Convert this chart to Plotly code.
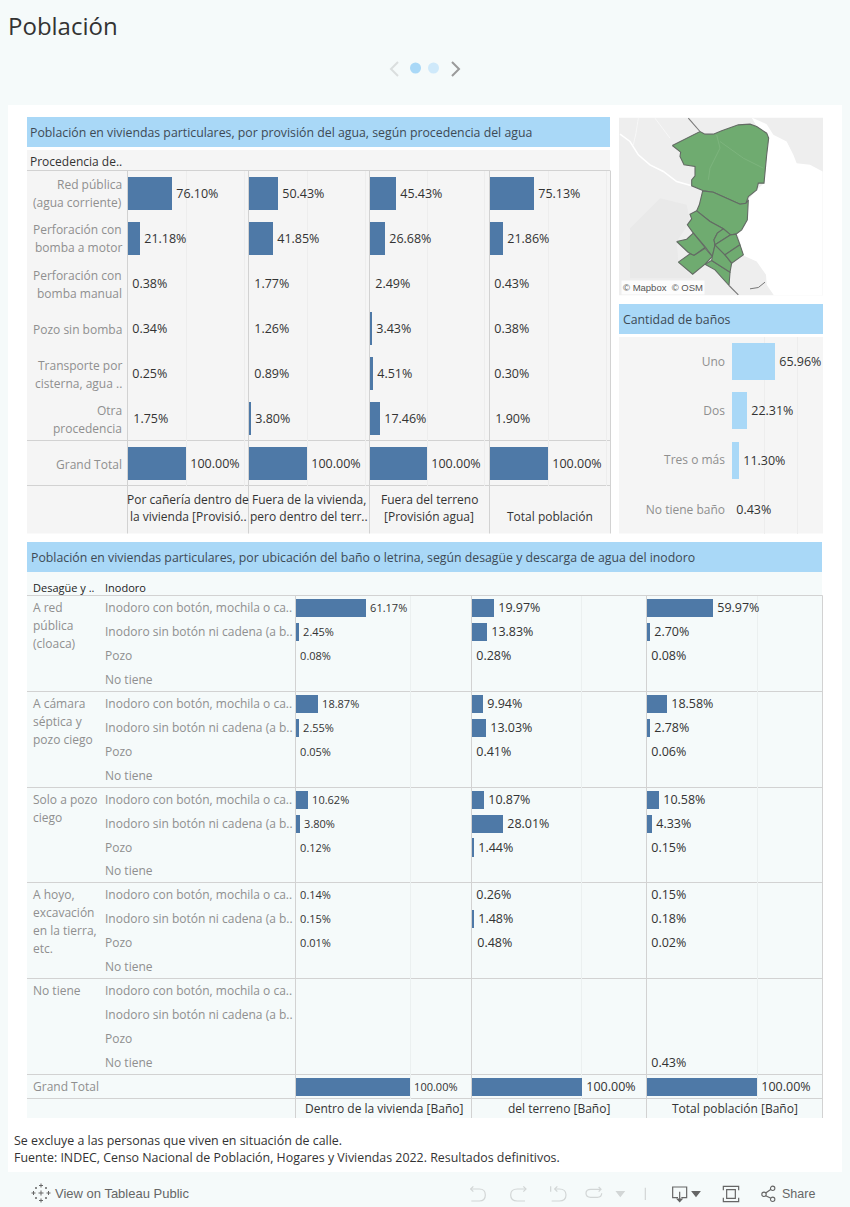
import plotly.graph_objects as go

# ---------- data ----------
water_rows = ["Red pública|(agua corriente)", "Perforación con|bomba a motor", "Perforación con|bomba manual",
              "Pozo sin bomba", "Transporte por|cisterna, agua ..", "Otra|procedencia", "Grand Total"]
water_cols = ["Por cañería dentro de|la vivienda [Provisió..", "Fuera de la vivienda,|pero dentro del terr..",
              "Fuera del terreno|[Provisión agua]", "Total población"]
water_dentro = [76.10, 21.18, 0.38, 0.34, 0.25, 1.75, 100.00]
water_fuera_viv = [50.43, 41.85, 1.77, 1.26, 0.89, 3.80, 100.00]
water_fuera_ter = [45.43, 26.68, 2.49, 3.43, 4.51, 17.46, 100.00]
water_total = [75.13, 21.86, 0.43, 0.38, 0.30, 1.90, 100.00]

bath_rows = ["Uno", "Dos", "Tres o más", "No tiene baño"]
bath_values = [65.96, 22.31, 11.30, 0.43]

groups = ["A red|pública|(cloaca)", "A cámara|séptica y|pozo ciego", "Solo a pozo|ciego",
          "A hoyo,|excavación|en la tierra,|etc.", "No tiene"]
toilets = ["Inodoro con botón, mochila o ca..", "Inodoro sin botón ni cadena (a b..", "Pozo", "No tiene"]
toilet_cols = ["Dentro de la vivienda [Baño]", "del terreno [Baño]", "Total población [Baño]"]
toilet_dentro = [61.17, 2.45, 0.08, None, 18.87, 2.55, 0.05, None, 10.62, 3.80, 0.12, None,
                 0.14, 0.15, 0.01, None, None, None, None, None, 100.00]
toilet_terreno = [19.97, 13.83, 0.28, None, 9.94, 13.03, 0.41, None, 10.87, 28.01, 1.44, None,
                  0.26, 1.48, 0.48, None, None, None, None, None, 100.00]
toilet_total = [59.97, 2.70, 0.08, None, 18.58, 2.78, 0.06, None, 10.58, 4.33, 0.15, None,
                0.15, 0.18, 0.02, None, None, None, None, 0.43, 100.00]

# map outlines, in map units
map_land = [(27,38),(639,38),(639,572),(27,572)]
map_north = [(187,122),(270,80),(285,88),(310,88),(335,78),(385,60),(420,58),(440,65),(470,85),(476,100),(470,150),(465,200),(462,235),(445,235),(440,255),(415,275),(408,295),(390,298),(350,280),(310,262),(280,258),(245,243),(245,225),(255,213),(255,185),(222,180),(210,155),(212,142)]
map_mid = [(278,258),(310,262),(350,280),(390,298),(408,295),(415,285),(412,345),(395,375),(378,388),(362,390),(340,372),(300,350),(260,318),(268,300)]
map_large = [(260,318),(240,328),(245,342),(232,360),(250,385),(285,425),(307,455),(315,420),(312,405),(322,385),(340,372),(300,350)]
map_west = [(200,410),(230,403),(250,385),(285,428),(252,452),(235,443)]
map_sw = [(205,472),(240,447),(252,452),(285,430),(307,455),(285,478),(248,508)]
map_south = [(285,478),(305,467),(360,502),(357,542),(315,495)]
map_center = [(307,455),(315,420),(345,450),(365,475),(360,502),(305,467)]
map_top_c = [(322,385),(340,372),(362,390),(315,420),(312,405)]
map_east_a = [(362,390),(378,388),(390,420),(345,450),(315,420)]
map_east_b = [(390,420),(400,450),(365,475),(345,450)]
map_regions = [map_north, map_mid, map_large, map_west, map_sw, map_south, map_center, map_top_c, map_east_a, map_east_b]
map_water = [(425,38),(470,58),(490,90),(530,110),(550,150),(560,175),(600,180),(638,200),(638,572),(492,572),(470,540),(468,510),(440,470),(400,452),(385,392),(378,388),(395,375),(412,345),(415,285),(440,255),(462,235),(470,150),(476,100),(470,85),(440,65)]
map_patch = [(60,370),(150,280),(230,300),(240,350),(200,410),(205,470),(250,520),(60,520)]
map_river_main = [(30,88),(60,110),(85,150),(120,180),(160,200),(200,230),(245,243)]
map_river_a = [(85,40),(78,85),(70,120)]
map_river_b = [(135,40),(165,80),(180,100)]
map_faint_a = [(320,90),(330,130),(300,190),(295,225)]
map_faint_b = [(330,110),(400,160),(460,190)]
map_coast_a = [(235,40),(270,80)]
map_coast_b = [(357,542),(385,570)]
map_coast_c = [(420,552),(445,548),(465,532)]

# ---------- styling ----------
W, H = 850, 1207
FONT = "Open Sans"
PAGE = "#F5FAFA"
BAND = "#A9D8F7"
BAR = "#4E79A7"
PANEL = "#F5F5F5"
RULE = "#D2D2D2"
GREY = "#8F8F8F"
DARK = "#333333"
UI = "#666666"
OFF = "#D2D6D6"
MIN_VISIBLE_PX = 1.5

xp = lambda v: v / W
yp = lambda v: 1 - v / H

shapes, notes = [], []

def rect(x0, y0, x1, y1, color):
    shapes.append(dict(type="rect", xref="paper", yref="paper", x0=xp(x0), x1=xp(x1), y0=yp(y0), y1=yp(y1),
                       fillcolor=color, line_width=0, layer="below"))

def rule(x0, y0, x1, y1, color=RULE, w=1):
    shapes.append(dict(type="line", xref="paper", yref="paper", x0=xp(x0), x1=xp(x1), y0=yp(y0), y1=yp(y1),
                       line=dict(color=color, width=w), layer="below"))

def path(pts, color=OFF, w=1.2, fill=None, layer="above"):
    out = []
    for c in pts:
        cmd, coords = c[0], c[1:]
        s = " ".join(f"{xp(coords[i]):.5f},{yp(coords[i+1]):.5f}" for i in range(0, len(coords), 2))
        out.append(f"{cmd}{s}")
    d = dict(type="path", xref="paper", yref="paper", path=" ".join(out), line=dict(color=color, width=w), layer=layer)
    if fill:
        d["fillcolor"] = fill
        d["path"] += " Z"
    shapes.append(d)

def circle(cx, cy, r, color, fill=None, w=0):
    shapes.append(dict(type="circle", xref="paper", yref="paper", x0=xp(cx-r), x1=xp(cx+r), y0=yp(cy+r), y1=yp(cy-r),
                       fillcolor=fill or "rgba(0,0,0,0)", line=dict(color=color, width=w)))

def text(x, y, s, size=12, color=DARK, anchor="left", family=FONT, yref="paper", yshift=0):
    notes.append(dict(x=xp(x), y=yp(y) if yref == "paper" else y, xref="paper", yref=yref, text=s, showarrow=False,
                      xanchor=anchor, yanchor="middle", borderpad=0, borderwidth=0, yshift=yshift,
                      font=dict(size=size, color=color, family=family)))

# ---------- page chrome ----------
rect(8, 105, 842, 1172, "#FFFFFF")
text(8, 25.5, "Población", size=24, color="#333333")
circle(415.5, 68, 5.5, BAND, BAND)
circle(433.5, 68, 5.5, "#CFE9FA", "#CFE9FA")
path([("M", 398, 62), ("L", 391, 69), ("L", 398, 76)], color="#DADEDE", w=2)
path([("M", 452, 62), ("L", 459, 69), ("L", 452, 76)], color="#9A9A9A", w=2)

# ---------- panels ----------
rect(27, 117, 610, 147, BAND)
rect(27, 150, 610, 533.5, PANEL)
text(30, 132.5, "Población en viviendas particulares, por provisión del agua, según procedencia del agua", size=12.3, color="#3D4A55")
text(30, 162, "Procedencia de..", color=DARK)

rect(619, 304, 823, 334, BAND)
rect(619, 337, 823, 533.5, PANEL)
text(623, 319.5, "Cantidad de baños", size=12.3, color="#3D4A55")

rect(27, 542, 822, 572, BAND)
rect(27, 572, 822, 1118, PAGE)
text(31, 557.5, "Población en viviendas particulares, por ubicación del baño o letrina, según desagüe y descarga de agua del inodoro", size=12.3, color="#3D4A55")
text(33, 588, "Desagüe y ..", size=11, color="#222222")
text(105, 588, "Inodoro", size=11, color="#222222")

for y in (170.5, 440.5, 485.5):
    rule(27, y, 610, y)
for x in (127.5, 248.5, 369.5, 489.5, 610.5):
    rule(x, 170.5, x, 533.5)
for y in (595.5, 691.5, 787.5, 882.5, 978.5, 1074.5, 1098.5):
    rule(27, y, 822.5, y)
for x in (295.5, 471.5, 646.5, 822.5):
    rule(x, 595.5, x, 1118)

fig = go.Figure()
layout = {}
axis_no = [0]

def bar_panel(values, x0, x1, y0, y1, px100, dtick, color, size=12.5, ylabels=None, grid="#EDEDED", standoff=5):
    axis_no[0] += 1
    n = axis_no[0]
    sx = "" if n == 1 else str(n)
    # marks under about 1.5 pixels do not show in the reference, only their labels do
    colors = [color if (v or 0) * px100 / 100 >= MIN_VISIBLE_PX else "rgba(0,0,0,0)" for v in values]
    fig.add_trace(go.Bar(
        x=values, y=list(range(len(values))), orientation="h", xaxis=f"x{sx}", yaxis=f"y{sx}",
        width=0.755, marker=dict(color=colors, line_width=0), texttemplate="\u200a%{x:.2f}%",
        textposition="outside", cliponaxis=False, constraintext="none", textangle=0,
        outsidetextfont=dict(size=size, color=DARK, family=FONT), hoverinfo="skip", showlegend=False))
    layout[f"xaxis{sx}"] = dict(domain=[xp(x0), xp(x1)], range=[0, (x1 - x0) / px100 * 100], anchor=f"y{sx}", dtick=dtick,
                                showgrid=True, gridcolor=grid, gridwidth=1, showticklabels=False, zeroline=False,
                                showline=False, ticks="")
    y_ax = dict(domain=[yp(y1), yp(y0)], range=[len(values) - 0.5, -0.5], anchor=f"x{sx}", showgrid=False,
                zeroline=False, showline=False, ticks="", showticklabels=False)
    if ylabels:
        y_ax.update(showticklabels=True, tickmode="array", tickvals=list(range(len(ylabels))), ticktext=ylabels,
                    ticklabelstandoff=standoff, tickfont=dict(size=12, color=GREY, family=FONT))
    layout[f"yaxis{sx}"] = y_ax
    return f"y{sx}"

# water table
water_series = [water_dentro, water_fuera_viv, water_fuera_ter, water_total]
water_x = [(128, 248, 58), (249, 369, 58), (370, 489, 57), (490, 610, 58)]
first_y = None
for vals, (a, b, px100) in zip(water_series, water_x):
    yy = bar_panel(vals, a, b, 170.5, 485.5, px100, 100, BAR)
    first_y = first_y or yy
for i, lab in enumerate(water_rows):
    lines = lab.split("|")
    for j, ln in enumerate(lines):
        text(122, i, ln, color=GREY, anchor="right", yref=first_y, yshift=(len(lines) - 1) * 9 - j * 18 - 1)
for lab, c in zip(water_cols, [188, 308.5, 429.5, 550]):
    lines = lab.split("|")
    for j, ln in enumerate(lines):
        text(c, 517 - (len(lines) - 1 - j) * 18, ln, anchor="center", color=DARK)

# bathrooms table
bar_panel(bath_values, 732, 823, 337, 534, 65.2, 50, BAND, ylabels=bath_rows, standoff=6)

# toilet table
toilet_series = [toilet_dentro, toilet_terreno, toilet_total]
toilet_x = [(296, 471, 114, 11), (472, 646, 109.5, 12.5), (647, 822, 110, 12.5)]
tb_y = None
for vals, (a, b, px100, fs) in zip(toilet_series, toilet_x):
    yy = bar_panel(vals, a, b, 595.5, 1098.5, px100, 100, BAR, size=fs, grid="#EBF0F0")
    tb_y = tb_y or yy
for g, lab in enumerate(groups):
    for j, ln in enumerate(lab.split("|")):
        text(33, g * 4, ln, color=GREY, yref=tb_y, yshift=-j * 18)
    for k, t in enumerate(toilets):
        text(105, g * 4 + k, t, color=GREY, yref=tb_y)
text(33, 20, "Grand Total", color=GREY, yref=tb_y)
for lab, c in zip(toilet_cols, [383.5, 559, 734.5]):
    text(c, 1108.5, lab, anchor="center", color=DARK)

# map
axis_no[0] += 1
m = str(axis_no[0])

def map_poly(pts, fill=None, line=None, w=1.0):
    closed = pts + [pts[0]] if fill else pts
    fig.add_trace(go.Scatter(x=[p[0] for p in closed], y=[p[1] for p in closed],
                             mode="lines", fill="toself" if fill else "none", fillcolor=fill,
                             line=dict(color=line or "rgba(0,0,0,0)", width=w), xaxis="x" + m, yaxis="y" + m,
                             hoverinfo="skip", showlegend=False))

map_poly(map_land, fill="#EEEEEE")
map_poly(map_patch, fill="#E9E9E9")
map_poly(map_water, fill="#FFFFFF")
map_poly(map_river_main, line="#FFFFFF", w=1.5)
map_poly(map_river_a, line="#FAFAFA", w=0.7)
map_poly(map_river_b, line="#FAFAFA", w=0.7)
for reg in map_regions:
    map_poly(reg, fill="#6FAB70", line="#636B64", w=1.1)
map_poly(map_faint_a, line="#80B680", w=0.8)
map_poly(map_faint_b, line="#80B680", w=0.8)
map_poly(map_coast_a, line="#777777", w=1.1)
map_poly(map_coast_b, line="#777777", w=1.1)
map_poly(map_coast_c, line="#777777", w=1)
layout["xaxis" + m] = dict(domain=[xp(619), xp(823)], range=[27, 639], visible=False, anchor="y" + m)
layout["yaxis" + m] = dict(domain=[yp(295.5), yp(117.5)], range=[572, 38], visible=False, anchor="x" + m)
notes.append(dict(x=xp(621), y=yp(287.5), xref="paper", yref="paper", xanchor="left", yanchor="middle", showarrow=False,
                  text="© Mapbox  © OSM", bgcolor="rgba(255,255,255,0.8)", font=dict(size=9.5, color="#555555", family="Liberation Sans")))

# footnotes
text(14, 1140, "Se excluye a las personas que viven en situación de calle.", size=12.4, color=DARK)
text(14, 1157.5, "Fuente: INDEC, Censo Nacional de Población, Hogares y Viviendas 2022. Resultados definitivos.", size=12.4, color=DARK)

# toolbar
text(55, 1193.5, "View on Tableau Public", size=13, color=UI, family="Liberation Sans")
text(782, 1193.5, "Share", size=12.5, color=UI, family="Liberation Sans")
for dx, dy, s in [(0, 0, 2.5), (0, -7.5, 2), (0, 7.5, 2), (-7.5, 0, 2), (7.5, 0, 2),
                  (-5, -5, 1), (5, -5, 1), (-5, 5, 1), (5, 5, 1)]:
    rule(41 + dx - s, 1193 + dy, 41 + dx + s, 1193 + dy, UI, 1)
    rule(41 + dx, 1193 + dy - s, 41 + dx, 1193 + dy + s, UI, 1)

def z(x, y):
    return 460 + x / 3, 1175 + y / 3

def zp(*cmds):
    res = []
    for c in cmds:
        vals = []
        for i in range(1, len(c), 2):
            vals += list(z(c[i], c[i + 1]))
        res.append((c[0], *vals))
    return res

path(zp(("M", 32, 42), ("L", 58, 42), ("Q", 76, 42, 76, 60), ("Q", 76, 78, 58, 78), ("L", 34, 78)))
path(zp(("M", 40, 34), ("L", 32, 42), ("L", 40, 50)))
path(zp(("M", 198, 42), ("L", 172, 42), ("Q", 152, 42, 152, 60), ("Q", 152, 78, 172, 78), ("L", 195, 78)))
path(zp(("M", 190, 34), ("L", 198, 42), ("L", 190, 50)))
path(zp(("M", 285, 42), ("L", 298, 42), ("Q", 318, 42, 318, 60), ("Q", 318, 78, 298, 78), ("L", 275, 78)))
path(zp(("M", 272, 34), ("L", 272, 50)))
path(zp(("M", 292, 34), ("L", 284, 42), ("L", 292, 50)))
path(zp(("M", 420, 43), ("L", 392, 43), ("Q", 378, 43, 378, 55), ("Q", 378, 67, 392, 67), ("L", 412, 67), ("Q", 425, 67, 425, 55)))
path(zp(("M", 416, 36), ("L", 423, 43), ("L", 416, 50)))
path(zp(("M", 470, 50), ("L", 492, 50), ("L", 481, 64)), fill=OFF)
path(zp(("M", 556, 38), ("L", 556, 75)))
path(zp(("M", 654, 68), ("L", 638, 68), ("L", 638, 36), ("L", 680, 36), ("L", 680, 68), ("L", 664, 68)), color=UI)
path(zp(("M", 659, 50), ("L", 659, 78)), color=UI)
path(zp(("M", 652, 72), ("L", 659, 80), ("L", 666, 72)), color=UI, fill=UI)
path(zp(("M", 697, 50), ("L", 719, 50), ("L", 708, 64)), color=UI, fill=UI)
path(zp(("M", 790, 46), ("L", 790, 34), ("L", 836, 34), ("L", 836, 46)), color=UI)
path(zp(("M", 790, 68), ("L", 790, 80), ("L", 836, 80), ("L", 836, 68)), color=UI)
path(zp(("M", 800, 44), ("L", 826, 44), ("L", 826, 70), ("L", 800, 70)), color=UI, fill="rgba(0,0,0,0)")
path(zp(("M", 917, 54), ("L", 933, 43)), color=UI)
path(zp(("M", 917, 62), ("L", 933, 70)), color=UI)
for zx, zy in [(912, 58), (938, 40), (938, 73)]:
    cx, cy = z(zx, zy)
    circle(cx, cy, 2.2, UI, None, 1.1)

fig.update_layout(width=W, height=H, autosize=False, margin=dict(l=0, r=0, t=0, b=0, pad=0),
                  paper_bgcolor=PAGE, plot_bgcolor="rgba(0,0,0,0)", barmode="overlay", bargap=0,
                  shapes=shapes, annotations=notes, font=dict(family=FONT), **layout)

fig.write_html("out.html", config={"displayModeBar": False, "responsive": False},
               post_script="document.body.style.margin='0';document.body.style.overflow='hidden';")
